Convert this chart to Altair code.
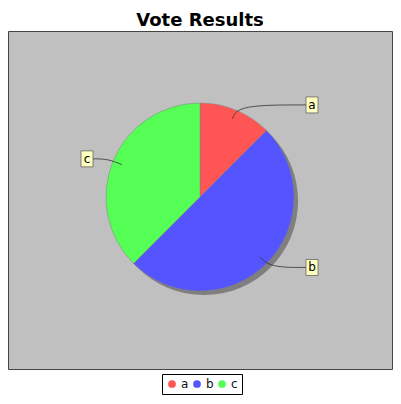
import math
import altair as alt
import pandas as pd

# ---- data ----
categories = ["a", "b", "c"]
votes = [1, 4, 3]
colors = ["#FF5555", "#5555FF", "#55FF55"]
title_text = "Vote Results"

# ---- layout ----
W, H = 384, 338
R = 94
CY = -3  # vertical shift of the pie centre (pixels)

pie_df = pd.DataFrame({"category": categories, "votes": votes,
                       "order": list(range(len(categories)))})

# label geometry derived from the slice angles
total = sum(votes)
link_rows, box_rows = [], []
cum = 0
for cat, v in zip(categories, votes):
    start = cum / total * 2 * math.pi
    cum += v
    end = cum / total * 2 * math.pi
    mid = (start + end) / 2
    s, c = math.sin(mid), math.cos(mid)
    ax, ay = 0.9 * R * s, -0.9 * R * c + CY
    ly = -1.06 * R * c + CY
    right = s >= 0
    edge = (R + 12) if right else -(R + 13)
    ctrl = 1.06 * R * s
    for i, (px, py) in enumerate([(ax, ay), (ctrl, ly), (edge, ly)]):
        link_rows.append({"category": cat, "i": i, "x": px, "y": py})
    bx0 = edge if right else edge - 12
    box_rows.append({"category": cat, "x0": bx0, "x1": bx0 + 12,
                     "y0": ly - 8, "y1": ly + 8, "xc": bx0 + 6, "yc": ly})

link_df = pd.DataFrame(link_rows)
box_df = pd.DataFrame(box_rows)

xs = alt.Scale(domain=[-W / 2, W / 2], nice=False, zero=False)
ys = alt.Scale(domain=[-H / 2, H / 2], nice=False, zero=False, reverse=True)

shadow = alt.Chart(pie_df).mark_arc(radius=R, xOffset=4, yOffset=4 + CY,
                                    color="#6a6a6a", opacity=0.75).encode(
    theta=alt.Theta("votes:Q", stack=True),
    order=alt.Order("order:Q"),
)

pie = alt.Chart(pie_df).mark_arc(radius=R, yOffset=CY, stroke="#808080",
                                 strokeWidth=0.5).encode(
    theta=alt.Theta("votes:Q", stack=True),
    order=alt.Order("order:Q"),
    color=alt.Color("category:N",
                    scale=alt.Scale(domain=categories, range=colors),
                    legend=alt.Legend(title=None, orient="none", direction="horizontal",
                                      legendX=154, legendY=H + 5,
                                      strokeColor="black", fillColor="white",
                                      padding=4, symbolType="circle", symbolSize=60,
                                      symbolStrokeWidth=0, labelFont="DejaVu Sans",
                                      labelFontSize=12, labelColor="#111111",
                                      labelOffset=3, columnPadding=2)),
)

links = alt.Chart(link_df).mark_line(interpolate="basis", color="#333333",
                                     strokeWidth=0.8).encode(
    x=alt.X("x:Q", scale=xs, axis=None),
    y=alt.Y("y:Q", scale=ys, axis=None),
    detail="category:N",
    order="i:Q",
)

box_shadow = alt.Chart(box_df).mark_rect(color="#979797", opacity=0.5,
                                         xOffset=2, yOffset=2).encode(
    x=alt.X("x0:Q", scale=xs, axis=None), x2="x1:Q",
    y=alt.Y("y0:Q", scale=ys, axis=None), y2="y1:Q",
)

boxes = alt.Chart(box_df).mark_rect(fill="#FFFFC0", stroke="#555555",
                                    strokeWidth=0.7).encode(
    x=alt.X("x0:Q", scale=xs, axis=None), x2="x1:Q",
    y=alt.Y("y0:Q", scale=ys, axis=None), y2="y1:Q",
)

texts = alt.Chart(box_df).mark_text(font="DejaVu Sans", fontSize=12,
                                    color="black", baseline="middle",
                                    align="center").encode(
    x=alt.X("xc:Q", scale=xs, axis=None),
    y=alt.Y("yc:Q", scale=ys, axis=None),
    text="category:N",
)

chart = alt.layer(shadow, pie, links, box_shadow, boxes, texts).properties(
    width=W, height=H,
    title=alt.Title(title_text, font="DejaVu Sans", fontSize=18, fontWeight="bold",
                    color="black", anchor="middle", offset=1),
    autosize=alt.AutoSizeParams(type="none"),
    padding={"left": 0, "top": 23, "right": 1, "bottom": 27},
    background="white",
).configure_view(
    fill="#C0C0C0", stroke="#444444", strokeWidth=1
)

chart.save("out.html", embed_options={"renderer": "svg", "actions": False})
